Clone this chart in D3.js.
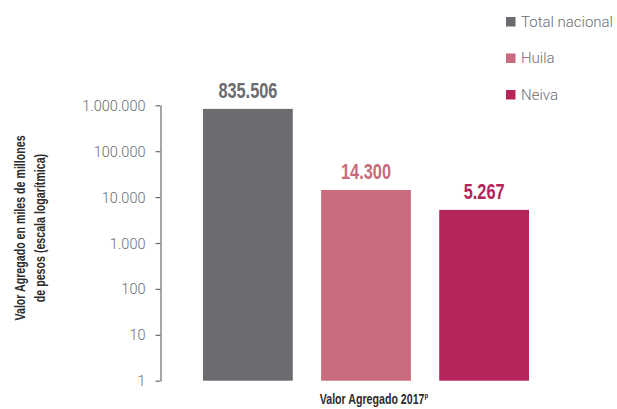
<!DOCTYPE html>
<html>
<head>
<meta charset="utf-8">
<script src="https://cdn.jsdelivr.net/npm/d3@7"></script>
<style>
  html, body { margin: 0; padding: 0; background: #fff; }
  svg { display: block; }
  .cond { font-family: "Liberation Sans", Arial, sans-serif; font-weight: bold; }
  .light { font-family: Roboto, "Noto Sans", sans-serif; font-weight: 300; }
</style>
</head>
<body>
<svg id="chart" width="617" height="409"></svg>
<script>
// Valor agregado 2017 (miles de millones de pesos)
const categories = ["Total nacional", "Huila", "Neiva"];
const values = [835506, 14300, 5267];
const valueLabels = ["835.506", "14.300", "5.267"];
const colors = ["#6b6c70", "#c86b7c", "#b5245a"];
const tickValues = [1, 10, 100, 1000, 10000, 100000, 1000000];
const tickLabels = ["1", "10", "100", "1.000", "10.000", "100.000", "1.000.000"];

// Condensed look: bold sans squeezed horizontally
const SQUEEZE = 0.76;

const svg = d3.select("#chart");

const y = d3.scaleLog().domain([1, 1000000]).range([380.7, 105.3]);
const x = d3.scaleBand().domain(categories).range([203, 529]).paddingInner(0.24).paddingOuter(0);

// Eje Y logarítmico
const yAxis = d3.axisLeft(y)
  .tickValues(tickValues)
  .tickFormat((d, i) => tickLabels[i])
  .tickSize(5)
  .tickSizeOuter(0)
  .tickPadding(10);

const gy = svg.append("g")
  .attr("transform", "translate(160.5,0)")
  .call(yAxis);
gy.select(".domain").attr("stroke", "#6b6c70").attr("stroke-width", 1.2);
gy.selectAll(".tick line").attr("stroke", "#6b6c70").attr("stroke-width", 1.2);
gy.selectAll(".tick text")
  .attr("class", "light")
  .attr("fill", "#6b6c70")
  .attr("font-size", 14.5)
  .attr("dy", "0.35em");

// Barras
svg.append("g").selectAll("rect")
  .data(categories)
  .join("rect")
  .attr("x", d => x(d))
  .attr("width", x.bandwidth())
  .attr("y", (d, i) => y(values[i]))
  .attr("height", (d, i) => y(1) - y(values[i]))
  .attr("fill", (d, i) => colors[i]);

// Etiquetas de valor
svg.append("g").selectAll("text")
  .data(categories)
  .join("text")
  .attr("class", "cond")
  .attr("transform", (d, i) =>
    `translate(${x(d) + x.bandwidth() / 2},${y(values[i]) - 11}) scale(${SQUEEZE},1)`)
  .attr("text-anchor", "middle")
  .attr("font-size", 21.5)
  .attr("fill", (d, i) => colors[i])
  .text((d, i) => valueLabels[i]);

// Título eje Y
const yTitle = svg.append("text")
  .attr("class", "cond")
  .attr("transform", `translate(25,228) rotate(-90) scale(${SQUEEZE},1)`)
  .attr("text-anchor", "middle")
  .attr("font-size", 14)
  .attr("fill", "#2b2b2b");
yTitle.append("tspan").attr("x", 0).attr("dy", 0).text("Valor Agregado en miles de millones");
yTitle.append("tspan").attr("x", 0).attr("dy", 20).text("de pesos (escala logarítmica)");

// Título eje X
const xTitle = svg.append("text")
  .attr("class", "cond")
  .attr("transform", `translate(374,404) scale(${SQUEEZE},1)`)
  .attr("text-anchor", "middle")
  .attr("font-size", 14)
  .attr("fill", "#2b2b2b");
xTitle.append("tspan").text("Valor Agregado 2017");
xTitle.append("tspan").attr("font-size", 8).attr("dy", -6).text("p");

// Leyenda
const legend = svg.append("g").attr("transform", "translate(506,17)");
const items = legend.selectAll("g")
  .data(categories)
  .join("g")
  .attr("transform", (d, i) => `translate(0,${i * 36.5})`);
items.append("rect")
  .attr("width", 9.5).attr("height", 9.5)
  .attr("fill", (d, i) => colors[i]);
items.append("text")
  .attr("class", "light")
  .attr("x", 15)
  .attr("y", 9.5)
  .attr("font-size", 15)
  .attr("fill", "#6b6c70")
  .text(d => d);
</script>
</body>
</html>
